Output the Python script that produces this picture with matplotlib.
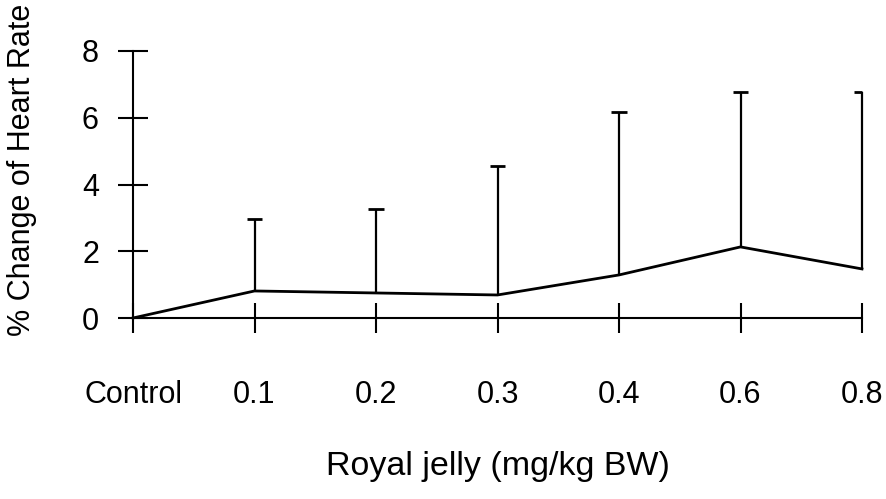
import numpy as np
import matplotlib
matplotlib.use("Agg")
import matplotlib.pyplot as plt

plt.rcParams['font.family'] = ['Liberation Sans', 'DejaVu Sans']

categories = ["Control", "0.1", "0.2", "0.3", "0.4", "0.6", "0.8"]
mean_change = [0.0, 0.81, 0.75, 0.69, 1.29, 2.13, 1.47]
upper_err = [0.0, 2.96, 3.26, 4.55, 6.18, 6.78, 6.78]
y_ticks = [0, 2, 4, 6, 8]

x = np.arange(len(categories))
mean = np.array(mean_change)
upper = np.array(upper_err)

fig = plt.figure(figsize=(8.86, 4.99), dpi=100)
ax = fig.add_axes([133/886, 1 - 318/499, (862-133)/886, (318-51)/499])

ax.plot(x, mean, color='black', lw=2.0, clip_on=False, zorder=3)

has_err = upper > 0
xe = x[has_err]
ax.vlines(xe, mean[has_err], upper[has_err], color='black', lw=1.6, clip_on=False)
cap_half = 0.065
cap_left = xe - cap_half
cap_right = np.where(xe == x.max(), xe, xe + cap_half)
ax.hlines(upper[has_err], cap_left, cap_right, color='black', lw=2.0, clip_on=False)

ax.set_xlim(0, len(categories) - 1)
ax.set_ylim(0, 8)
ax.set_xticks(x)
ax.set_xticklabels(categories)
ax.set_yticks(y_ticks)
for s in ['top', 'right']:
    ax.spines[s].set_visible(False)
for s in ['left', 'bottom']:
    ax.spines[s].set_linewidth(1.5)
ax.tick_params(axis='both', direction='inout', length=21, width=1.5, labelsize=22)
ax.tick_params(axis='y', pad=14)
ax.tick_params(axis='x', pad=34)
ax.set_xlabel("Royal jelly (mg/kg BW)", fontsize=24.5, labelpad=30)
ax.set_ylabel("% Change of Heart Rate", fontsize=22)
ax.yaxis.set_label_coords((37 - 133) / 729, (318 - 170) / 267)

fig.savefig("out.png", dpi=100)
